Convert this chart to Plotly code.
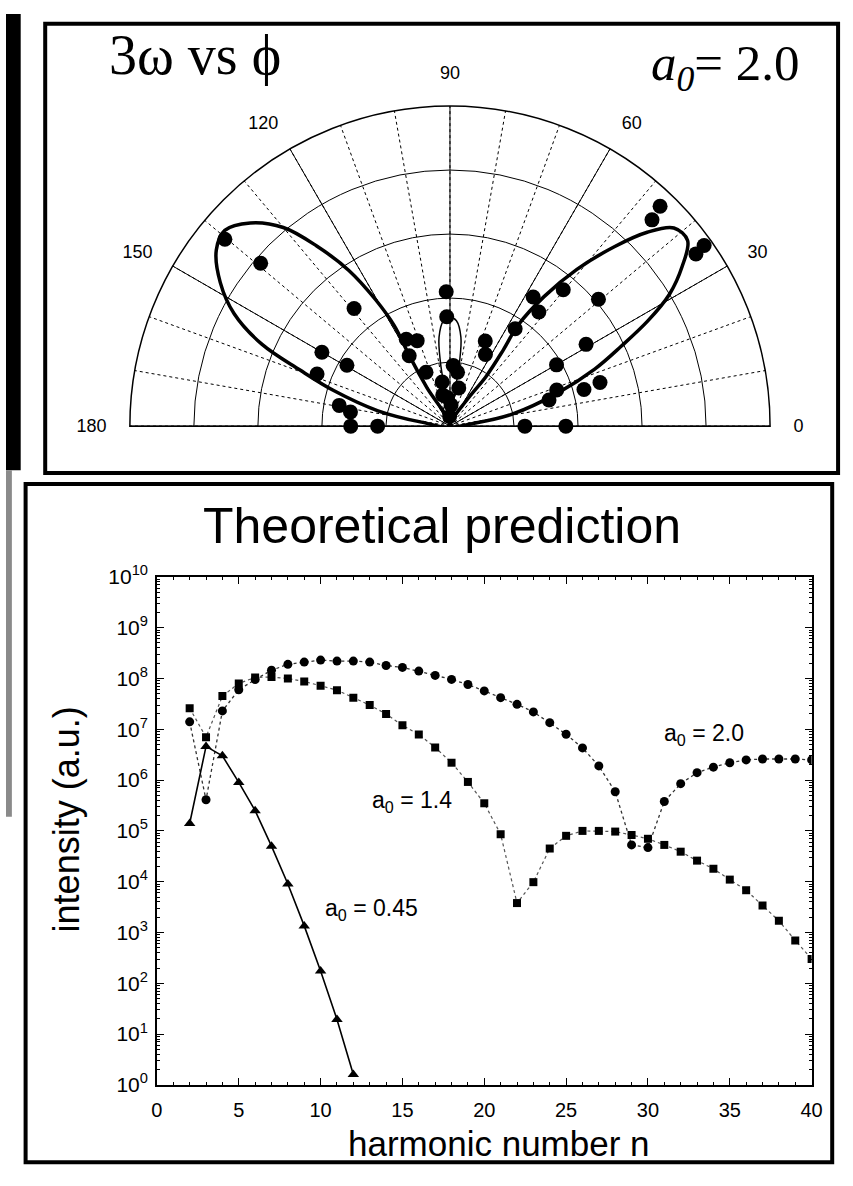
import plotly.graph_objects as go

W, H = 853, 1186
SANS = "Liberation Sans, Arial, Helvetica, sans-serif"
SERIF = "Liberation Serif, Times New Roman, serif"

# ---------------- bottom panel: theoretical prediction ----------------
n_045 = list(range(2, 13))
I_045 = [1.4e5, 4.6e6, 3.0e6, 9.0e5, 2.5e5, 5.0e4, 9.0e3, 1.35e3, 175, 19.5, 1.6]

n_14 = list(range(2, 41))
I_14 = [2.6e7, 7.0e6, 4.5e7, 8.0e7, 1.05e8, 1.07e8, 1.0e8, 8.7e7, 7.2e7, 5.9e7,
        4.2e7, 3.0e7, 2.0e7, 1.2e7, 7.9e6, 4.4e6, 2.2e6, 9.2e5, 3.5e5, 8.6e4,
        3.8e3, 9.8e3, 4.5e4, 8.0e4, 1.0e5, 1.0e5, 9.7e4, 8.3e4, 7.0e4, 5.3e4,
        3.9e4, 2.6e4, 1.8e4, 1.1e4, 6.8e3, 3.4e3, 1.7e3, 7.0e2, 3.0e2]

n_20 = list(range(2, 41))
I_20 = [1.4e7, 4.1e5, 2.3e7, 6.0e7, 9.5e7, 1.45e8, 1.9e8, 2.1e8, 2.3e8, 2.2e8,
        2.2e8, 2.1e8, 1.8e8, 1.65e8, 1.4e8, 1.15e8, 9.6e7, 7.6e7, 5.7e7, 4.2e7,
        3.1e7, 2.2e7, 1.35e7, 8.0e6, 4.3e6, 1.9e6, 5.9e5, 5.3e4, 4.7e4, 3.8e5,
        8.5e5, 1.4e6, 1.8e6, 2.2e6, 2.5e6, 2.6e6, 2.6e6, 2.6e6, 2.5e6]

x_tick_vals = [0, 5, 10, 15, 20, 25, 30, 35, 40]
x_tick_text = [str(v) for v in x_tick_vals]
y_tick_exp = list(range(0, 11))
y_tick_vals = [10.0 ** k for k in y_tick_exp]
y_tick_text = ["10<sup>%d</sup>" % k for k in y_tick_exp]
y_minor_vals = [m * 10.0 ** k for k in range(0, 10) for m in range(2, 10)]

# series labels (x in n, y in log10 intensity)
series_labels = ["a<sub>0</sub> = 2.0", "a<sub>0</sub> = 1.4", "a<sub>0</sub> = 0.45"]
label_x = [33.4, 15.6, 13.1]
label_logy = [6.9, 5.57, 3.46]

# ---------------- top panel: 3w vs phi (polar) ----------------
# theoretical curve (theta in deg, r in grid units)
lobeL_theta = [120, 121, 120, 119, 120.5, 123, 126.5, 130, 134.5, 139, 143, 148,
               152.5, 156.5, 159.5, 163, 168, 172, 175]
lobeL_r = [0, 0.7, 1.25, 1.8, 2.3, 2.9, 3.5, 4.05, 4.45, 4.66, 4.57, 4.23,
           3.8, 3.2, 2.5, 1.9, 1.15, 0.45, 0]
lobeR_theta = [60, 57, 54, 55, 56, 54, 51, 47.5, 44.5, 41.5, 38, 34.5, 31, 28,
               25, 21.5, 17, 11, 7, 5]
lobeR_r = [0, 0.5, 0.95, 1.45, 1.9, 2.5, 3.15, 3.8, 4.32, 4.67, 4.71, 4.4, 4.0,
           3.5, 2.95, 2.43, 1.75, 1.0, 0.4, 0]
lobeC_theta = [97, 98, 98.5, 97, 93.5, 90, 86.5, 83, 81.5, 82, 83]
lobeC_r = [0, 0.5, 1.0, 1.4, 1.65, 1.7, 1.65, 1.4, 1.0, 0.5, 0]

# measured points
dots_theta = [140.3, 139.3, 129.2, 150, 149.4, 158.6, 169.4, 171.9, 180, 180,
              116.7, 111, 120.1, 91.6, 91.7, 87, 100, 77, 87, 114, 95, 82, 92, 103,
              67.5, 63.7, 56.2, 57.2, 52.1, 50.3, 40.5, 46.3, 45.6, 35.4, 35,
              31, 29.9, 16.2, 15.3, 14.8, 18.7, 0, 0]
dots_r = [4.57, 3.90, 2.37, 2.31, 1.87, 2.23, 1.76, 1.57, 1.55, 1.13,
          1.52, 1.43, 1.27, 2.10, 1.71, 0.95, 0.70, 0.61, 0.33, 0.92, 0.45, 0.85, 0.15, 0.5,
          1.44, 1.25, 1.83, 2.40, 2.26, 2.77, 3.05, 4.75, 4.51, 4.87, 4.69,
          2.48, 1.92, 2.44, 2.17, 1.60, 1.76, 1.17, 1.81]

ang_tick_vals = [0, 30, 60, 90, 120, 150, 180]
ang_tick_text = [str(v) for v in ang_tick_vals]

fig = go.Figure()

# bottom traces
fig.add_trace(go.Scatter(x=n_20, y=I_20, mode="lines+markers", showlegend=False,
                         line=dict(color="#333333", width=1.3, dash="dot"),
                         marker=dict(symbol="circle", size=9, color="black")))
fig.add_trace(go.Scatter(x=n_14, y=I_14, mode="lines+markers", showlegend=False,
                         line=dict(color="#555555", width=1.2, dash="dot"),
                         marker=dict(symbol="square", size=8, color="black")))
fig.add_trace(go.Scatter(x=n_045, y=I_045, mode="lines+markers", showlegend=False,
                         line=dict(color="black", width=1.6),
                         marker=dict(symbol="triangle-up", size=10, color="black")))

# base polar subplot (solid grid + labels): needs a trace to be drawn
fig.add_trace(go.Scatterpolar(theta=[90], r=[0], mode="markers", subplot="polar",
                              showlegend=False, hoverinfo="skip",
                              marker=dict(size=1, color="rgba(0,0,0,0)")))

# polar traces (on the overlay subplot)
for th, rr, w in [(lobeL_theta, lobeL_r, 3.5), (lobeR_theta, lobeR_r, 3.5),
                  (lobeC_theta, lobeC_r, 1.5)]:
    fig.add_trace(go.Scatterpolar(theta=th, r=rr, mode="lines", subplot="polar2",
                                  showlegend=False,
                                  line=dict(color="black", width=w, shape="spline")))
fig.add_trace(go.Scatterpolar(theta=dots_theta, r=dots_r, mode="markers", subplot="polar2",
                              showlegend=False, cliponaxis=False,
                              marker=dict(size=15, color="black")))

pdom = dict(x=[126 / W, 780 / W], y=[1 - 421 / H, 1 - 94 / H])

annotations = [
    dict(text="3ω vs ϕ", x=103 / W, y=1 - 42 / H, xref="paper", yref="paper",
         xanchor="left", yanchor="middle", showarrow=False,
         font=dict(family=SERIF, size=56, color="black")),
    dict(text="<i>a</i><sub><i>0</i></sub>= 2.0", x=812 / W, y=1 - 54 / H, xref="paper",
         yref="paper", xanchor="right", yanchor="middle", showarrow=False,
         font=dict(family=SERIF, size=51, color="black")),
    dict(text="Theoretical prediction", x=445 / W, y=1 - 523 / H, xref="paper",
         yref="paper", xanchor="center", yanchor="middle", showarrow=False,
         font=dict(family=SANS, size=50, color="black")),
    dict(text="harmonic number n", x=503 / W, y=1 - 1154 / H, xref="paper",
         yref="paper", xanchor="center", yanchor="middle", showarrow=False,
         font=dict(family=SANS, size=35, color="black")),
    dict(text="intensity (a.u.)", x=62 / W, y=1 - 823 / H, xref="paper",
         yref="paper", xanchor="center", yanchor="middle", showarrow=False,
         textangle=-90, font=dict(family=SANS, size=36, color="black")),
]
for t, lx, ly in zip(series_labels, label_x, label_logy):
    annotations.append(dict(text=t, x=lx, y=ly, xref="x", yref="y", showarrow=False,
                            xanchor="center", yanchor="middle",
                            font=dict(family=SANS, size=23, color="black")))

def px_rect(x0, y0, x1, y1, **kw):
    return dict(type="rect", xref="paper", yref="paper",
                x0=x0 / W, x1=x1 / W, y0=1 - y1 / H, y1=1 - y0 / H, **kw)

shapes = [
    px_rect(0, 0, 15, 466, fillcolor="black", line=dict(width=0)),
    px_rect(0, 466, 6, 820, fillcolor="#8a8a8a", line=dict(width=0)),
    px_rect(40, 10, 849, 469, line=dict(color="black", width=4)),
    px_rect(20, 480, 843, 1173, line=dict(color="black", width=4)),
]

fig.update_layout(
    width=W, height=H, margin=dict(l=0, r=0, t=0, b=0),
    paper_bgcolor="white", plot_bgcolor="white", showlegend=False,
    xaxis=dict(domain=[154 / W, 822 / W], range=[0, 40], tickmode="array",
               tickvals=x_tick_vals, ticktext=x_tick_text, ticks="inside", ticklen=7,
               tickwidth=1.2, tickcolor="black",
               minor=dict(tickmode="linear", tick0=0, dtick=1, ticks="inside",
                          ticklen=3, tickcolor="black", showgrid=False),
               showline=True, linecolor="black", linewidth=1.5, mirror="allticks",
               showgrid=False, zeroline=False, ticklabelstandoff=6,
               tickfont=dict(family=SANS, size=20, color="black"), anchor="y"),
    yaxis=dict(domain=[1 - 1094 / H, 1 - 575 / H], type="log", range=[0, 10],
               tickmode="array", tickvals=y_tick_vals, ticktext=y_tick_text,
               ticks="inside", ticklen=7, tickwidth=1.2, tickcolor="black",
               minor=dict(tickmode="array", tickvals=y_minor_vals, ticks="inside",
                          ticklen=3, tickcolor="black", showgrid=False),
               showline=True, linecolor="black", linewidth=1.5, mirror="allticks",
               showgrid=False, zeroline=False, ticklabelstandoff=3,
               tickfont=dict(family=SANS, size=21, color="black"), anchor="x"),
    polar=dict(domain=pdom, sector=[0, 180], bgcolor="white",
               radialaxis=dict(range=[0, 5], dtick=1, showticklabels=False, ticks="",
                               showline=False, gridcolor="black", gridwidth=1),
               angularaxis=dict(tickmode="array", tickvals=ang_tick_vals,
                                ticktext=ang_tick_text, direction="counterclockwise",
                                rotation=0, gridcolor="black", gridwidth=1,
                                showline=True, linecolor="black", linewidth=1.5,
                                ticks="outside", ticklen=19,
                                tickcolor="rgba(0,0,0,0)",
                                tickfont=dict(family=SANS, size=18, color="black"))),
    polar2=dict(domain=pdom, sector=[0, 180], bgcolor="rgba(0,0,0,0)",
                radialaxis=dict(range=[0, 5], showgrid=False, showticklabels=False,
                                ticks="", showline=False),
                angularaxis=dict(dtick=10, direction="counterclockwise", rotation=0,
                                 gridcolor="black", gridwidth=1, griddash="dot",
                                 showticklabels=False, ticks="", showline=False)),
    annotations=annotations, shapes=shapes,
)

fig.write_html("out.html")
